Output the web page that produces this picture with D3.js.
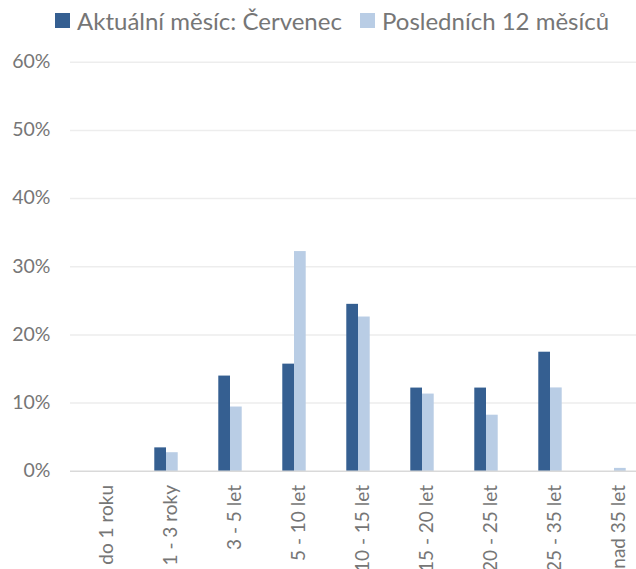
<!DOCTYPE html>
<html><head><meta charset="utf-8">
<script src="https://cdn.jsdelivr.net/npm/d3@7"></script>
<style>body{margin:0;background:#fff;}svg{display:block;font-family:Lato,"Open Sans",sans-serif;}</style>
</head><body>
<script>
const categories = ["do 1 roku","1 - 3 roky","3 - 5 let","5 - 10 let","10 - 15 let","15 - 20 let","20 - 25 let","25 - 35 let","nad 35 let"];
const seriesNames = ["Aktuální měsíc: Červenec","Posledních 12 měsíců"];
const currentMonth = [0, 3.51, 14.04, 15.79, 24.56, 12.28, 12.28, 17.54, 0];
const last12Months = [0, 2.8, 9.5, 32.3, 22.7, 11.4, 8.3, 12.3, 0.5];
const yTicks = [0, 10, 20, 30, 40, 50, 60];
const colors = ["#355f91", "#b9cde5"];

const W = 636, H = 569;
const svg = d3.select("body").append("svg").attr("width", W).attr("height", H);

const y = d3.scaleLinear().domain([0, 60]).range([471.3, 62.2]);
const x0 = d3.scaleBand().domain(categories).range([70, 646]).paddingInner(0.634).paddingOuter(0.317);
const x1 = d3.scaleBand().domain([0, 1]).range([0, x0.bandwidth()]);

// gridlines
svg.append("g").selectAll("line").data(yTicks.filter(t => t > 0)).join("line")
  .attr("x1", 70).attr("x2", 646)
  .attr("y1", d => y(d)).attr("y2", d => y(d))
  .attr("stroke", "#ededed").attr("stroke-width", 1.5);

// y axis labels
const yAxis = d3.axisLeft(y).tickValues(yTicks).tickFormat(d => d + "%").tickSize(0).tickPadding(0);
const ya = svg.append("g").attr("transform", "translate(50.5,0)").call(yAxis);
ya.select(".domain").remove();
ya.selectAll("text").attr("fill", "#767676").attr("font-size", 19.5).attr("dy", "0.27em")
  .attr("font-family", "Lato, sans-serif");

// bars
const data = categories.map((c, i) => ({c, vals: [currentMonth[i], last12Months[i]]}));
const groups = svg.append("g").selectAll("g").data(data).join("g")
  .attr("transform", d => `translate(${x0(d.c)},0)`);
groups.selectAll("rect").data(d => d.vals.map((v, k) => ({v, k}))).join("rect")
  .attr("x", d => x1(d.k)).attr("width", x1.bandwidth())
  .attr("y", d => y(d.v)).attr("height", d => y(0) - y(d.v))
  .attr("fill", d => colors[d.k]);

// x axis line
svg.append("line").attr("x1", 70).attr("x2", 646).attr("y1", y(0)).attr("y2", y(0))
  .attr("stroke", "#d9d9d9").attr("stroke-width", 1.5);

// x labels
const xAxis = d3.axisBottom(x0).tickSize(0).tickPadding(0);
const xa = svg.append("g").attr("transform", "translate(0,485)").call(xAxis);
xa.select(".domain").remove();
xa.selectAll("text")
  .attr("transform", "rotate(-90)")
  .attr("x", 0).attr("y", 0).attr("dy", "0.57em")
  .attr("text-anchor", "end")
  .attr("fill", "#767676").attr("font-size", 19).attr("font-family", "Lato, sans-serif");

// legend
const legendX = [55, 360];
const lg = svg.append("g").selectAll("g").data(seriesNames).join("g")
  .attr("transform", (d, i) => `translate(${legendX[i]},0)`);
lg.append("rect").attr("x", 0).attr("y", 13).attr("width", 15).attr("height", 15).attr("fill", (d, i) => colors[i]);
lg.append("text").attr("x", 22).attr("y", 29.5).text(d => d)
  .attr("fill", "#767676").attr("font-size", 24).attr("font-family", "Lato, sans-serif");
</script>
</body></html>
